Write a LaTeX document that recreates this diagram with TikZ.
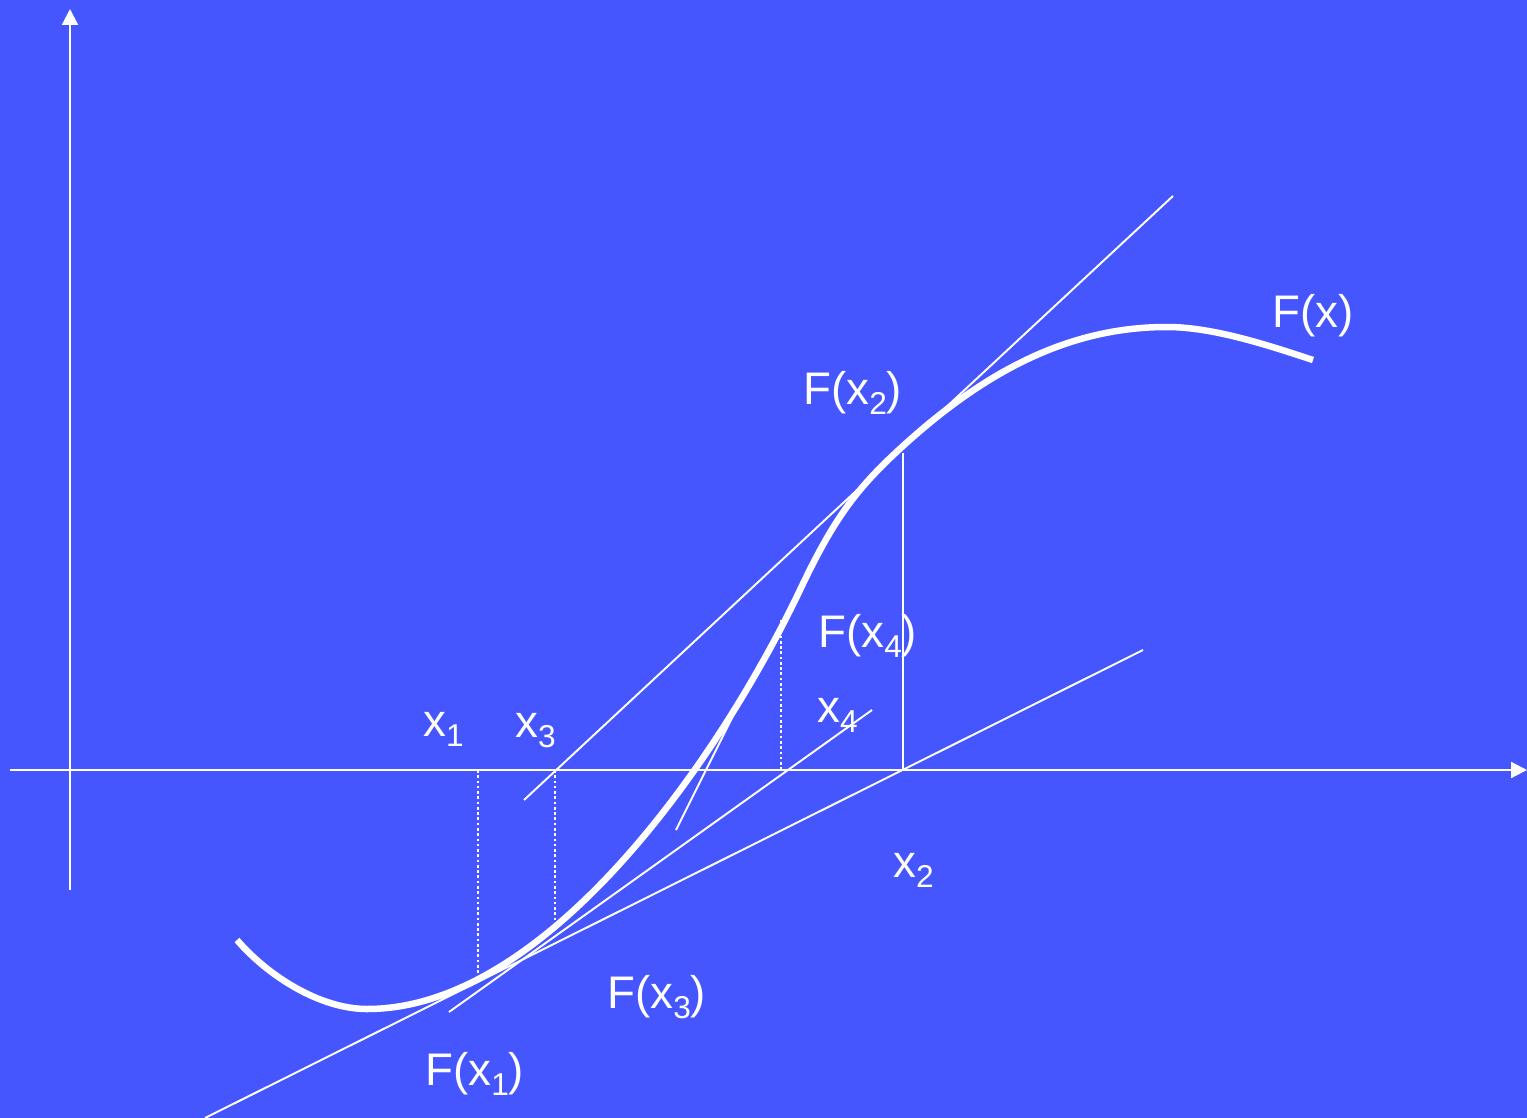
\documentclass[tikz,border=0pt]{standalone}
\usepackage{fontspec}
\setmainfont{Liberation Sans}
\usepackage{tikz}
\usetikzlibrary{arrows.meta}
\definecolor{slidebg}{RGB}{70,86,255}
\newcommand{\subidx}[1]{\raisebox{-0.24em}{\fontsize{18}{20}\selectfont #1}}

\begin{document}
\begin{tikzpicture}[x=0.02cm, y=-0.02cm,
    axis/.style={draw=white, line width=1.2pt, -{Triangle[length=9pt, width=9pt]}},
    tangent/.style={draw=white, line width=1.1pt},
    dropline/.style={draw=white, line width=1.2pt, dash pattern=on 1.5pt off 1.5pt},
    fcurve/.style={draw=white, line width=3.7pt},
    lbl/.style={text=white, inner sep=0pt, anchor=base west, font=\fontsize{26}{30}\selectfont}
  ]
    \fill[slidebg] (0,0) rectangle (1527,1118);
    \useasboundingbox (0,0) rectangle (1527,1118);

    \coordinate (xs) at (10,770);
    \coordinate (xe) at (1527,770);
    \coordinate (ys) at (70,890);
    \coordinate (ye) at (70,9);

    \coordinate (X1) at (478,770);
    \coordinate (X2) at (903,770);
    \coordinate (X3) at (555,770);
    \coordinate (X4) at (781,770);
    \coordinate (F1) at (478,975);
    \coordinate (F2) at (903,453);
    \coordinate (F3) at (555,925);
    \coordinate (F4) at (781,620);

    \coordinate (t1a) at (205,1118);
    \coordinate (t1b) at (1143,650);
    \coordinate (t2a) at (524,800);
    \coordinate (t2b) at (1173,196);
    \coordinate (t3a) at (449,1012);
    \coordinate (t3b) at (872,710);
    \coordinate (t4a) at (676,830);
    \coordinate (t4b) at (760,662);

    \draw[axis] (xs) -- (xe);
    \draw[axis] (ys) -- (ye);

    \draw[tangent] (t1a) -- (t1b);
    \draw[tangent] (t2a) -- (t2b);
    \draw[tangent] (t3a) -- (t3b);
    \draw[tangent] (t4a) -- (t4b);

    \draw[dropline] (X1) -- (F1);
    \draw[dropline] (X3) -- (F3);
    \draw[dropline] (X4) -- (F4);
    \draw[tangent] (X2) -- (F2);

    % F(x)
    \draw[fcurve] (237,940) .. controls (268,976) and (320,1009) .. (367,1009)
      .. controls (547,1009) and (720,758) .. (800,590)
      .. controls (835,516) and (858,487) .. (903,446)
      .. controls (993,364) and (1077,327) .. (1167,327)
      .. controls (1215,327) and (1273,347) .. (1313,360);

    \node[lbl] (fx) at (1272,328) {F(x)};
    \node[lbl] (fx2) at (803,404) {F(x\subidx{2})};
    \node[lbl] (fx4) at (818,647) {F(x\subidx{4})};
    \node[lbl] (x4) at (817,722) {x\subidx{4}};
    \node[lbl] (x1) at (423,736) {x\subidx{1}};
    \node[lbl] (x3) at (515,737) {x\subidx{3}};
    \node[lbl] (x2) at (893,877) {x\subidx{2}};
    \node[lbl] (fx3) at (607,1008) {F(x\subidx{3})};
    \node[lbl] (fx1) at (425,1085) {F(x\subidx{1})};
  \end{tikzpicture}
\end{document}
